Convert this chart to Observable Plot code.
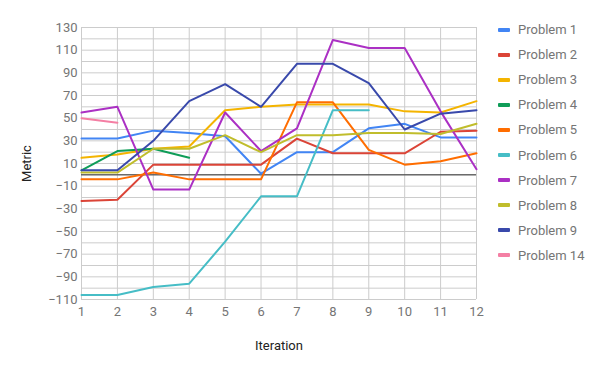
<!DOCTYPE html>
<html>
<head>
<meta charset="utf-8">
<script src="https://cdn.jsdelivr.net/npm/d3@7"></script>
<script src="https://cdn.jsdelivr.net/npm/@observablehq/plot@0.6"></script>
<style>
  html, body { margin: 0; padding: 0; background: #fff; }
  #wrap { position: relative; width: 600px; height: 371px; font-family: Roboto, sans-serif; }
  #legend { position: absolute; left: 498px; top: 17px; font-size: 13px; color: #757575; }
  .item { height: 25.1px; display: flex; align-items: center; white-space: nowrap; }
  .sw { width: 12px; height: 4px; margin-right: 8px; border-radius: 1px; }
</style>
</head>
<body>
<div id="wrap"><div id="legend"></div></div>
<script>
const iterations = [1, 2, 3, 4, 5, 6, 7, 8, 9, 10, 11, 12];
const seriesNames = ["Problem 1", "Problem 2", "Problem 3", "Problem 4", "Problem 5", "Problem 6", "Problem 7", "Problem 8", "Problem 9", "Problem 14"];
const colors = ["#4285f4", "#db4437", "#f4b400", "#0f9d58", "#ff6d00", "#46bdc6", "#ab30c4", "#c0bd2c", "#3949ab", "#f47fa4"];

const problem1  = [32, 32, 39, 37, 34, 1, 20, 20, 41, 45, 33, 33];
const problem2  = [-23, -22, 9, 9, 9, 9, 32, 19, 19, 19, 38, 39];
const problem3  = [15, 18, 23, 25, 57, 60, 62, 62, 62, 56, 55, 65];
const problem4  = [4, 21, 23, 15, null, null, null, null, null, null, null, null];
const problem5  = [-4, -4, 2, -4, -4, -4, 64, 64, 22, 9, 12, 19];
const problem6  = [-106, -106, -99, -96, -59, -19, -19, 57, 57, null, null, null];
const problem7  = [55, 60, -13, -13, 55, 21, 41, 119, 112, 112, 56, 5];
const problem8  = [2, 2, 23, 23, 35, 20, 35, 35, 37, 37, 36, 45];
const problem9  = [4, 4, 30, 65, 80, 60, 98, 98, 81, 40, 54, 57];
const problem14 = [50, 46, null, null, null, null, null, null, null, null, null, null];

const allSeries = [problem1, problem2, problem3, problem4, problem5, problem6, problem7, problem8, problem9, problem14];
const yTicks = d3.range(-110, 131, 20);
const yGrid = d3.range(-110, 131, 10);

const rows = [];
allSeries.forEach((vals, s) => {
  vals.forEach((v, i) => {
    if (v != null) rows.push({ iteration: iterations[i], value: v, series: seriesNames[s] });
  });
});

const chart = Plot.plot({
  width: 600,
  height: 371,
  marginLeft: 81,
  marginRight: 124,
  marginTop: 27,
  marginBottom: 72,
  style: { fontFamily: "Roboto, sans-serif", fontSize: "13px", background: "transparent" },
  x: { domain: [1, 12] },
  y: { domain: [-110, 130] },
  color: { domain: seriesNames, range: colors },
  marks: [
    Plot.gridY(yGrid, { stroke: "#cccccc", strokeOpacity: 1 }),
    Plot.gridX(iterations, { stroke: "#cccccc", strokeOpacity: 1 }),
    Plot.ruleY([0], { stroke: "#333333" }),
    Plot.line(rows, { x: "iteration", y: "value", z: "series", stroke: "series", strokeWidth: 2 }),
    Plot.axisY(yTicks, { tickSize: 0, tickPadding: 4, fill: "#757575", fontSize: 13,
      label: "Metric", labelAnchor: "center", labelArrow: "none", labelOffset: 60 }),
    Plot.axisX(iterations, { tickSize: 0, tickPadding: 7, fill: "#757575", fontSize: 13, tickFormat: d => String(d),
      label: "Iteration", labelAnchor: "center", labelArrow: "none", labelOffset: 50 })
  ]
});
document.getElementById("wrap").prepend(chart);

// style axis labels darker
chart.querySelectorAll("g[aria-label='y-axis label'] text, g[aria-label='x-axis label'] text").forEach(t => t.setAttribute("fill", "#222"));

const legend = d3.select("#legend");
seriesNames.forEach((name, i) => {
  const item = legend.append("div").attr("class", "item");
  item.append("div").attr("class", "sw").style("background", colors[i]);
  item.append("span").text(name);
});
</script>
</body>
</html>
